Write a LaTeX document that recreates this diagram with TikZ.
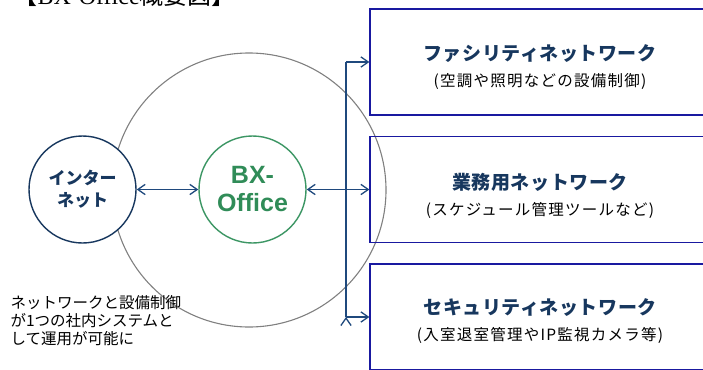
\documentclass[tikz,border=0pt]{standalone}
\usepackage{fontspec}
\setmainfont{Noto Sans CJK JP}
\newfontfamily\subfont{Noto Sans CJK JP}[LetterSpace=8]
\newfontfamily\headfont{Noto Sans CJK JP}[LetterSpace=3]
\newfontfamily\arialfont{Liberation Sans}
\newfontfamily\timesfont{Liberation Serif}
\usepackage{tikz}
\usetikzlibrary{calc,shapes,positioning}
\usetikzlibrary{arrows.meta}
\tikzset{>={Straight Barb[width=3.6mm,length=2.6mm]}}

\definecolor{navy}{RGB}{23,55,94}
\definecolor{linkblue}{RGB}{31,73,125}
\definecolor{boxblue}{RGB}{25,25,160}
\definecolor{bxgreen}{RGB}{60,150,100}
\definecolor{bxtext}{RGB}{48,140,88}
\newcommand{\ntitlefont}{\headfont\fontsize{19}{22}\selectfont\bfseries\color{navy}}

\begin{document}
\begin{tikzpicture}[x=1pt,y=-1pt]
        \tikzstyle{cnode} = [line width=1.4pt, draw=navy, circle, minimum size=107pt, inner sep = 0pt, align=center]
        \tikzstyle{bnode} = [line width=1.4pt, draw=bxgreen, circle, minimum size=107pt, inner sep = 0pt, align=center]
        \tikzstyle{znode} = [line width=1.1pt, draw=gray, circle, minimum size=274pt, inner sep = 0pt]
        \tikzstyle{nnode} = [line width=1.2pt, rectangle, draw=boxblue, minimum width=340pt, minimum height=106pt, inner sep = 0pt]
        \tikzstyle{ntext} = [align=center, font=\subfont\fontsize{15.5}{26}\selectfont]
        \tikzstyle{link} = [line width=1.3pt, draw=linkblue]

        \clip (0,0) rectangle (703,369);

        \node[anchor=base west, font=\fontsize{24}{24}\selectfont] (title) at (10,5) {【{\timesfont BX-Office}概要図】};

        \node[znode] (sys) at (249,190) {};

        \node[cnode, fill=white] (inet) at (82.5,189.5) {};
        \node[align=center, text=navy, font=\fontsize{17}{22}\selectfont\bfseries] (inetText) at (inet) {インター\\ネット};
        \node[bnode, fill=white] (bx) at (252.5,189.5) {};
        \node[align=center, text=bxtext, font=\arialfont\fontsize{25}{28}\selectfont\bfseries] (bxText) at (bx) {BX-\\Office};

        \node[nnode] (fac) at (540,62) {};
        \node[ntext] (facText) at ($(fac) + (0,5)$) {{\ntitlefont ファシリティネットワーク}\\(空調や照明などの設備制御)};
        \node[nnode] (biz) at (540,189.5) {};
        \node[ntext] (bizText) at ($(biz) + (0,6)$) {{\ntitlefont 業務用ネットワーク}\\(スケジュール管理ツールなど)};
        \node[nnode] (sec) at (540,317) {};
        \node[ntext] (secText) at ($(sec) + (0,4)$) {{\ntitlefont セキュリティネットワーク}\\(入室退室管理やIP監視カメラ等)};

        \node[anchor=north west, align=left, font=\fontsize{15.5}{18}\selectfont] (note) at (7,292) {ネットワークと設備制御\\が1つの社内システムと\\して運用が可能に};

        \coordinate (bus) at (346,0);

        \path[<->, link]
        (inet) edge node {} (bx)
        (bx) edge node {} (biz)
        ;
        \path[-, link]
        (bus |- fac.west) edge node {} (bus |- sec.west)
        ;
        \path[->, link]
        (bus |- fac.west) edge node {} (fac.west)
        (bus |- sec.west) edge node {} (sec.west)
        ;
\end{tikzpicture}
\end{document}
